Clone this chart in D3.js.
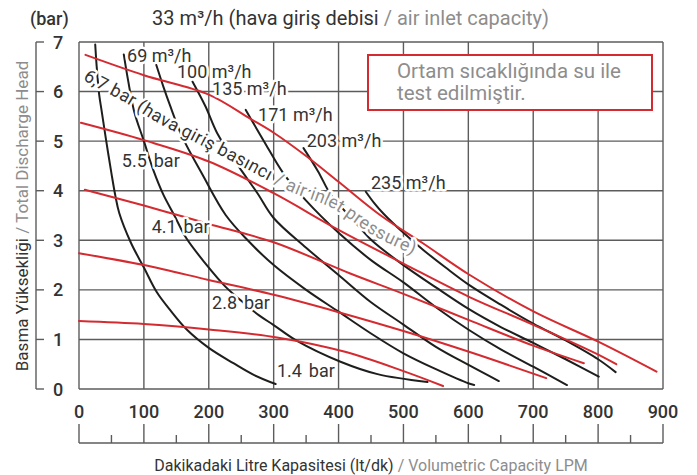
<!DOCTYPE html>
<html><head><meta charset="utf-8">
<script src="https://cdn.jsdelivr.net/npm/d3@7/dist/d3.min.js"></script>
<style>
body{margin:0;background:#fff;}
svg text{font-family:Roboto,"Noto Sans",sans-serif;}
</style></head><body>
<svg id="chart" width="697" height="475"></svg>
<script>
// ---------- data ----------
const xTicks = [0,100,200,300,400,500,600,700,800,900];
const xMinorTicks = [50,150,250,350,450,550,650,750,850];
const yTicks = [0,1,2,3,4,5,6,7];

// air inlet pressure curves (red)
const pressure67 = [[10,6.74],[100,6.33],[200,5.94],[263,5.46],[300,5.17],[350,4.7],[400,4.18],[465,3.5],[530,2.94],[601,2.31],[701,1.56],[801,0.95],[890,0.35]];
const pressure55 = [[3,5.37],[100,5.02],[200,4.59],[300,3.95],[400,3.21],[500,2.53],[601,1.86],[701,1.29],[801,0.69],[828,0.5]];
const pressure41 = [[9,4.02],[100,3.70],[149,3.52],[200,3.33],[300,2.96],[418,2.33],[500,1.92],[601,1.39],[701,0.87],[778,0.52]];
const pressure28 = [[0,2.74],[100,2.50],[200,2.20],[300,1.90],[400,1.55],[500,1.17],[601,0.75],[720,0.22]];
const pressure14 = [[0,1.37],[100,1.31],[200,1.2],[305,1.04],[410,0.75],[500,0.36],[561,0.06]];

// air consumption curves (black)
const flow33  = [[25,6.95],[27,6.55],[31,5.95],[35,5.6],[42,5.0],[50,4.35],[56,3.9],[62,3.55],[80,2.95],[100,2.45],[120,1.95],[140,1.6],[166,1.2],[200,0.83],[238,0.52],[270,0.28],[303,0.1]];
const flow69  = [[69,6.75],[76,6.2],[85,5.6],[100,5.0],[115,4.4],[130,3.92],[147,3.5],[165,3.05],[195,2.53],[226,2.06],[251,1.77],[277,1.49],[300,1.29],[336,0.97],[403,0.55],[460,0.3],[537,0.14]];
const flow100 = [[119,6.54],[130,6.1],[140,5.73],[159,5.09],[190,4.33],[226,3.51],[260,3.0],[300,2.5],[350,2.0],[400,1.56],[450,1.12],[500,0.72],[550,0.4],[601,0.11],[609,0.08]];
const flow135 = [[175,6.2],[195,5.7],[213,5.16],[246,4.49],[275,3.95],[300,3.45],[350,2.85],[400,2.3],[450,1.75],[500,1.3],[550,0.85],[601,0.48],[647,0.16]];
const flow171 = [[257,5.63],[285,5.0],[315,4.35],[350,3.8],[400,3.15],[450,2.6],[500,2.15],[550,1.65],[601,1.19],[650,0.8],[700,0.45],[752,0.08]];
const flow203 = [[346,4.86],[368,4.4],[390,3.88],[420,3.45],[451,3.0],[500,2.5],[550,2.05],[601,1.61],[650,1.25],[700,0.93],[750,0.6],[801,0.25]];
const flow235 = [[442,3.98],[455,3.75],[469,3.54],[500,3.15],[531,2.8],[565,2.45],[601,2.1],[650,1.7],[700,1.32],[750,0.98],[800,0.6],[827,0.34]];

const pressureSeries = [pressure67, pressure55, pressure41, pressure28, pressure14];
const flowSeries = [flow33, flow69, flow100, flow135, flow171, flow203, flow235];

const flowLabels = ["69 m³/h","100 m³/h","135 m³/h","171 m³/h","203 m³/h","235 m³/h"];
const flowLabelAt = [[74,6.6],[151,6.27],[205,5.93],[276,5.41],[351,4.88],[450,4.03]];
const pressureLabels = ["5.5 bar","4.1 bar","2.8 bar","1.4 bar"];
const pressureLabelAt = [[66,4.48],[112,3.15],[205,1.61],[305,0.24]];

const curvedLabelDark = "6,7 bar (hava giriş basıncı ";
const curvedLabelGray = "/ air inlet pressure)";
const curvedLabelPath = [[11,6.36],[22,6.27],[75,5.9],[128,5.47],[190,5.05],[259,4.58],[330,4.1],[394,3.77],[460,3.2],[530,2.76],[560,2.55]];

const titleDark = "33 m³/h (hava giriş debisi ";
const titleGray = "/ air inlet capacity)";
const yTitleDark = "Basma Yüksekliği ";
const yTitleGray = "/ Total Discharge Head";
const xTitleDark = "Dakikadaki Litre Kapasitesi (lt/dk) ";
const xTitleGray = "/ Volumetric Capacity LPM";
const noteLines = ["Ortam sıcaklığında su ile","test edilmiştir."];

// ---------- drawing ----------
const RED = "#d42b31", BLACK = "#1e1e1c", GRID = "#5c5c5c", DARK = "#333", GRAY = "#8d8d8d";
const svg = d3.select("#chart");
const x = d3.scaleLinear().domain([0,900]).range([79,663]);
const y = d3.scaleLinear().domain([0,7]).range([389,42]);

// grid
const g = svg.append("g");
g.selectAll("line.v").data(xTicks).join("line")
  .attr("x1",d=>x(d)).attr("x2",d=>x(d)).attr("y1",y(0)).attr("y2",y(7))
  .attr("stroke",GRID).attr("stroke-width",1.4);
g.selectAll("line.h").data(yTicks).join("line")
  .attr("x1",x(0)).attr("x2",x(900)).attr("y1",d=>y(d)).attr("y2",d=>y(d))
  .attr("stroke",GRID).attr("stroke-width",1.4);

// left axis bracket
const ya = svg.append("g");
ya.append("line").attr("x1",36).attr("x2",36).attr("y1",y(7)).attr("y2",y(0)).attr("stroke",GRID).attr("stroke-width",1.4);
ya.selectAll("line.t").data(yTicks).join("line")
  .attr("x1",36).attr("x2",44).attr("y1",d=>y(d)).attr("y2",d=>y(d)).attr("stroke",GRID).attr("stroke-width",1.4);
ya.selectAll("text").data(yTicks).join("text")
  .attr("x",58).attr("y",d=>y(d)+6.5).attr("text-anchor","middle")
  .attr("font-size",18).attr("font-weight",500).attr("fill",DARK).text(d=>d);

// bottom axis
const xa = svg.append("g");
xa.append("line").attr("x1",x(0)).attr("x2",x(900)).attr("y1",443).attr("y2",443).attr("stroke",GRID).attr("stroke-width",1.4);
xa.selectAll("line.M").data(xTicks).join("line")
  .attr("x1",d=>x(d)).attr("x2",d=>x(d)).attr("y1",443).attr("y2",424).attr("stroke",GRID).attr("stroke-width",1.4);
xa.selectAll("line.m").data(xMinorTicks).enter().append("line")
  .attr("x1",d=>x(d)).attr("x2",d=>x(d)).attr("y1",443).attr("y2",435).attr("stroke",GRID).attr("stroke-width",1.4);
xa.selectAll("text").data(xTicks).join("text")
  .attr("x",d=>x(d)).attr("y",418).attr("text-anchor","middle")
  .attr("font-size",18).attr("font-weight",500).attr("fill",DARK).text(d=>d);

// curves
const line = d3.line().x(d=>x(d[0])).y(d=>y(d[1])).curve(d3.curveCatmullRom.alpha(0.5));
svg.append("g").selectAll("path").data(flowSeries).join("path")
  .attr("d",line).attr("fill","none").attr("stroke",BLACK).attr("stroke-width",2).attr("stroke-linecap","round");
svg.append("g").selectAll("path").data(pressureSeries).join("path")
  .attr("d",line).attr("fill","none").attr("stroke",RED).attr("stroke-width",2).attr("stroke-linecap","round");

// labels with halo
function halo(sel){ return sel.attr("stroke","#fff").attr("stroke-width",5).attr("stroke-linejoin","round").attr("paint-order","stroke"); }
svg.append("g").selectAll("text").data(flowLabels).join("text")
  .attr("x",(d,i)=>x(flowLabelAt[i][0])).attr("y",(d,i)=>y(flowLabelAt[i][1]))
  .attr("font-size",18).attr("fill",DARK).call(halo).text(d=>d);
svg.append("g").selectAll("text").data(pressureLabels).join("text")
  .attr("x",(d,i)=>x(pressureLabelAt[i][0])).attr("y",(d,i)=>y(pressureLabelAt[i][1]))
  .attr("font-size",18).attr("word-spacing",2.5).attr("fill",DARK).call(halo).text(d=>d);

// curved label
const pathLine = d3.line().x(d=>x(d[0])).y(d=>y(d[1])).curve(d3.curveCatmullRom.alpha(0.5));
svg.append("path").attr("id","curvedPath").attr("d",pathLine(curvedLabelPath)).attr("fill","none");
const ct = svg.append("text").attr("font-size",18).attr("letter-spacing",0.3).attr("dy","0.36em").call(halo);
const tp = ct.append("textPath").attr("href","#curvedPath").attr("startOffset",0);
tp.append("tspan").attr("fill",DARK).text(curvedLabelDark);
tp.append("tspan").attr("fill",GRAY).text(curvedLabelGray);

// note box
svg.append("rect").attr("x",368).attr("y",55).attr("width",284).attr("height",55)
  .attr("fill","#fff").attr("stroke",RED).attr("stroke-width",2);
svg.append("g").selectAll("text").data(noteLines).join("text")
  .attr("x",397).attr("y",(d,i)=>78+i*22).attr("font-size",20.5).attr("fill",GRAY).text(d=>d);

// titles
svg.append("text").attr("x",30).attr("y",25).attr("font-size",18).attr("font-weight",500).attr("fill",DARK).text("(bar)");
const t = svg.append("text").attr("x",152).attr("y",25).attr("font-size",20);
t.append("tspan").attr("fill",DARK).text(titleDark);
t.append("tspan").attr("fill",GRAY).text(titleGray);

const yt = svg.append("text").attr("transform","translate(28,216) rotate(-90)").attr("text-anchor","middle").attr("font-size",17);
yt.append("tspan").attr("fill",DARK).text(yTitleDark);
yt.append("tspan").attr("fill",GRAY).text(yTitleGray);

const xt = svg.append("text").attr("x",371).attr("y",471).attr("text-anchor","middle").attr("font-size",16);
xt.append("tspan").attr("fill",DARK).text(xTitleDark);
xt.append("tspan").attr("fill",GRAY).text(xTitleGray);
</script>
</body></html>
